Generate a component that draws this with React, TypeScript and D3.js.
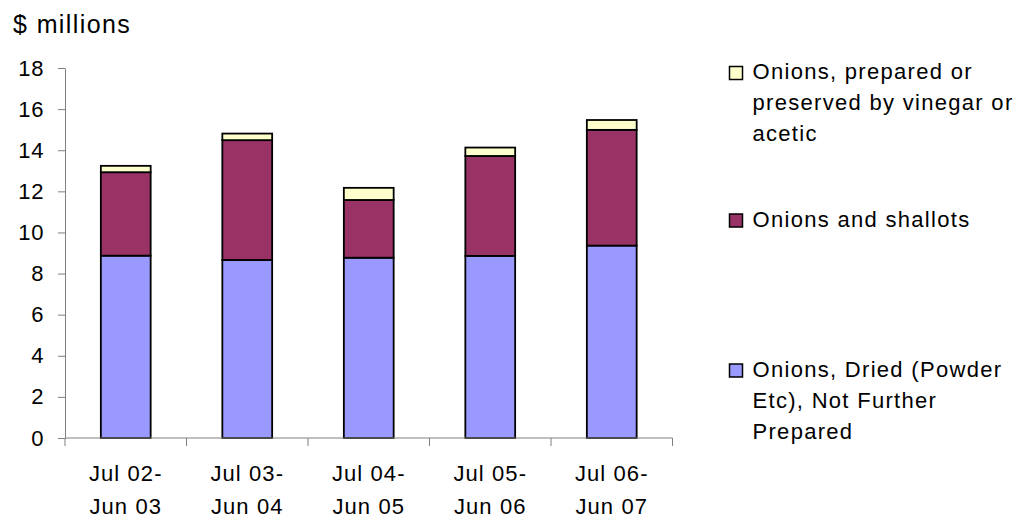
import { useEffect, useRef } from "react";
import * as d3 from "d3";

// categories (two-line labels)
const periods = ["Jul 02-\nJun 03", "Jul 03-\nJun 04", "Jul 04-\nJun 05", "Jul 05-\nJun 06", "Jul 06-\nJun 07"];

// series values ($ millions), bottom to top
const dried = [8.87, 8.66, 8.77, 8.86, 9.36];
const shallots = [4.06, 5.83, 2.81, 4.86, 5.63];
const vinegar = [0.31, 0.32, 0.59, 0.41, 0.48];

const yTicks = [0, 2, 4, 6, 8, 10, 12, 14, 16, 18];

const seriesNames = [
  "Onions, Dried (Powder Etc), Not Further Prepared",
  "Onions and shallots",
  "Onions, prepared or preserved by vinegar or acetic",
];
const colors = ["#9999ff", "#993366", "#ffffcc"];

// legend text wrapped as in the original, top entry first
const legendLines = [
  ["Onions, prepared or", "preserved by vinegar or", "acetic"],
  ["Onions and shallots"],
  ["Onions, Dried (Powder", "Etc), Not Further", "Prepared"],
];

const W = 1017;
const H = 518;
const FONT = "'Liberation Sans', Arial, sans-serif";

export default function App() {
  const svgRef = useRef<SVGSVGElement | null>(null);

  useEffect(() => {
    if (!svgRef.current) return;
    const svg = d3.select(svgRef.current);
    svg.selectAll("*").remove();

    const left = 65;
    const right = 672.5;
    const top = 68;
    const bottom = 438;

    const x = d3.scaleBand<string>().domain(periods).range([left, right]).padding(0);
    const y = d3.scaleLinear().domain([0, 18]).range([bottom, top]);
    const barW = x.bandwidth() * 0.41;

    // stack
    const rows = periods.map((p, i) => ({
      period: p,
      s0: dried[i],
      s1: shallots[i],
      s2: vinegar[i],
    }));
    const stack = d3.stack<any>().keys(["s0", "s1", "s2"]);
    const layers = stack(rows);

    // title
    svg
      .append("text")
      .attr("x", 13)
      .attr("y", 33)
      .attr("font-family", FONT)
      .attr("font-size", 25)
      .attr("letter-spacing", 1.4)
      .attr("fill", "#000")
      .text("$ millions");

    // y axis
    const yAxis = d3
      .axisLeft(y)
      .tickValues(yTicks)
      .tickSize(7)
      .tickSizeOuter(0)
      .tickPadding(14);

    const gy = svg.append("g").attr("transform", `translate(${left},0)`).call(yAxis);
    gy.select(".domain").attr("stroke", "#808080");
    gy.selectAll(".tick line").attr("stroke", "#808080");
    gy.selectAll(".tick text")
      .attr("font-family", FONT)
      .attr("font-size", 22)
      .attr("letter-spacing", 0.6)
      .attr("fill", "#000");

    // bars
    layers.forEach((layer, li) => {
      svg
        .append("g")
        .selectAll("rect")
        .data(layer)
        .join("rect")
        .attr("x", (d: any) => x(d.data.period)! + (x.bandwidth() - barW) / 2)
        .attr("y", (d) => y(d[1]))
        .attr("width", barW)
        .attr("height", (d) => y(d[0]) - y(d[1]))
        .attr("fill", colors[li])
        .attr("stroke", "#000")
        .attr("stroke-width", 1.8);
    });

    // x axis (ticks at category boundaries)
    const gx = svg.append("g");
    gx.append("line")
      .attr("x1", left)
      .attr("x2", right)
      .attr("y1", bottom)
      .attr("y2", bottom)
      .attr("stroke", "#808080");
    const edges = periods.map((p) => x(p)!).concat([right]);
    gx.selectAll("line.tick")
      .data(edges)
      .join("line")
      .attr("class", "tick")
      .attr("x1", (d) => d)
      .attr("x2", (d) => d)
      .attr("y1", bottom)
      .attr("y2", bottom + 8)
      .attr("stroke", "#808080");

    const labels = gx
      .selectAll("text.lab")
      .data(periods)
      .join("text")
      .attr("class", "lab")
      .attr("text-anchor", "middle")
      .attr("font-family", FONT)
      .attr("font-size", 22)
      .attr("letter-spacing", 1.1)
      .attr("fill", "#000");
    labels
      .selectAll("tspan")
      .data((d) => d.split("\n").map((t) => ({ t, c: d })))
      .join("tspan")
      .attr("x", (d) => x(d.c)! + x.bandwidth() / 2)
      .attr("y", (_, i) => 481 + i * 33)
      .text((d) => d.t);

    // legend
    const legendY = [79, 226.5, 376.5];
    const legendColors = [colors[2], colors[1], colors[0]];
    const lg = svg.append("g");
    legendLines.forEach((lines, i) => {
      const g = lg.append("g").attr("aria-label", seriesNames[2 - i]);
      g.append("rect")
        .attr("x", 729.5)
        .attr("y", legendY[i] - 12.5)
        .attr("width", 13)
        .attr("height", 13)
        .attr("fill", legendColors[i])
        .attr("stroke", "#000")
        .attr("stroke-width", 1.5);
      g.append("text")
        .attr("font-family", FONT)
        .attr("font-size", 22)
        .attr("letter-spacing", 1.3)
        .attr("fill", "#000")
        .selectAll("tspan")
        .data(lines)
        .join("tspan")
        .attr("x", 752.5)
        .attr("y", (_, k) => legendY[i] + k * 31)
        .text((d) => d);
    });
  }, []);

  return (
    <svg
      ref={svgRef}
      width={W}
      height={H}
      style={{ position: "absolute", left: 0, top: 0, background: "#fff" }}
    />
  );
}
